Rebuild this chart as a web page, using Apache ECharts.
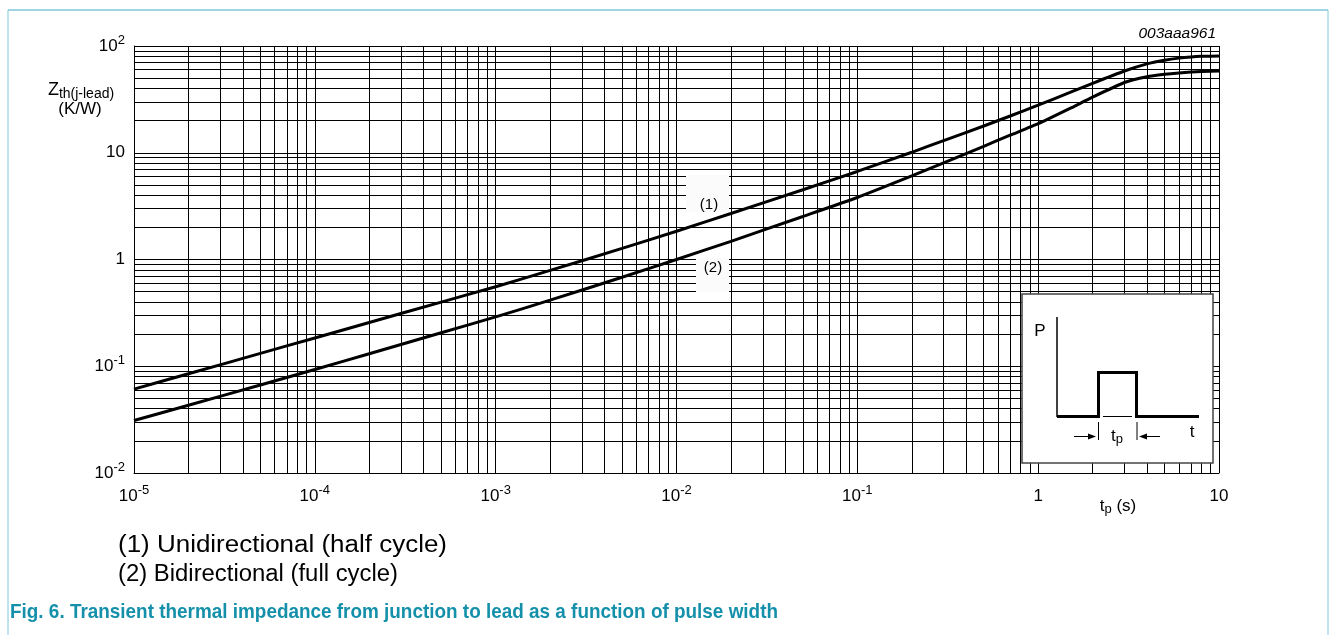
<!DOCTYPE html>
<html>
<head>
<meta charset="utf-8">
<script src="https://cdn.jsdelivr.net/npm/echarts@6/dist/echarts.min.js"></script>
<style>
html,body{margin:0;padding:0;background:#fff;}
#chart{width:1330px;height:635px;}
</style>
</head>
<body>
<div id="chart"></div>
<script>
// ---- data ----
const pulseWidth = [1e-5, 2e-5, 5e-5, 1e-4, 2e-4, 5e-4, 1e-3, 2e-3, 5e-3, 1e-2, 2e-2, 5e-2, 0.1, 0.2, 0.3, 0.5, 0.7, 1, 1.5, 2, 3, 4, 5, 6, 7, 8, 10];
const zthUnidirectional = [0.061, 0.085, 0.132, 0.184, 0.257, 0.399, 0.556, 0.79, 1.27, 1.84, 2.7, 4.5, 6.68, 10.1, 13.0, 17.8, 22.1, 27.9, 36.7, 44.7, 58.3, 68, 73.5, 77, 79, 80, 80.7];
const zthBidirectional = [0.031, 0.0431, 0.0668, 0.0931, 0.131, 0.206, 0.290, 0.416, 0.682, 1.0, 1.48, 2.53, 3.81, 6.06, 8.04, 11.5, 14.6, 18.7, 26.0, 33.2, 45.5, 51.5, 54.3, 56, 57, 57.7, 58.3];
const xTickExponents = [-5, -4, -3, -2, -1, 0, 1];
const yTickExponents = [-2, -1, 0, 1, 2];
const xPlainLabels = {'0': '1', '1': '10'};
const yPlainLabels = {'0': '1', '1': '10'};

const FONT = 'Liberation Sans, Arial, sans-serif';

function decadeGrid(minExp, maxExp) {
  const v = [];
  for (let e = minExp; e < maxExp; e++) {
    for (let m = 1; m <= 9; m++) v.push(m * Math.pow(10, e));
  }
  v.push(Math.pow(10, maxExp));
  return v;
}
const xMin = Math.pow(10, xTickExponents[0]), xMax = Math.pow(10, xTickExponents[xTickExponents.length - 1]);
const yMin = Math.pow(10, yTickExponents[0]), yMax = Math.pow(10, yTickExponents[yTickExponents.length - 1]);
const xGridValues = decadeGrid(xTickExponents[0], xTickExponents[xTickExponents.length - 1]);
const yGridValues = decadeGrid(yTickExponents[0], yTickExponents[yTickExponents.length - 1]);
const gridSegments = xGridValues.map(v => ({coords: [[v, yMin], [v, yMax]]}))
  .concat(yGridValues.map(v => ({coords: [[xMin, v], [xMax, v]]})));

function powLabel(value, plain) {
  const e = Math.round(Math.log10(value));
  if (plain[String(e)] !== undefined) return '{b|' + plain[String(e)] + '}';
  return '{b|10}{s|' + e + '}';
}
const labelRich = {
  b: {fontSize: 17, fontFamily: FONT, color: '#000', lineHeight: 24},
  s: {fontSize: 13, fontFamily: FONT, color: '#000', lineHeight: 13, verticalAlign: 'top'}
};

// measure text to fit widths
const mctx = document.createElement('canvas').getContext('2d');
function fitScale(text, font, width) {
  mctx.font = font;
  return width / mctx.measureText(text).width;
}
const capFont = 'bold 21px Liberation Sans';
const capText = 'Fig. 6. Transient thermal impedance from junction to lead as a function of pulse width';
const leg1 = '(1) Unidirectional (half cycle)';
const leg2 = '(2) Bidirectional (full cycle)';
const legFont = '23px Liberation Sans';

const chart = echarts.init(document.getElementById('chart'), null, {renderer: 'canvas'});

const lineW = 3;
const option = {
  animation: false,
  backgroundColor: '#fff',
  grid: {left: 134, right: 111, top: 46, bottom: 162, containLabel: false},
  xAxis: {
    type: 'log', logBase: 10, min: xMin, max: xMax, splitNumber: 6,
    axisLine: {show: true, lineStyle: {color: '#000', width: 1}},
    axisTick: {show: false},
    splitLine: {show: false},
    axisLabel: {margin: 11, formatter: v => powLabel(v, xPlainLabels), rich: labelRich}
  },
  yAxis: {
    type: 'log', logBase: 10, min: yMin, max: yMax, splitNumber: 4,
    axisLine: {show: true, lineStyle: {color: '#000', width: 1}},
    axisTick: {show: false},
    splitLine: {show: false},
    axisLabel: {margin: 9, formatter: v => powLabel(v, yPlainLabels), rich: labelRich}
  },
  series: [
    {
      type: 'lines', coordinateSystem: 'cartesian2d', silent: true, z: 1,
      lineStyle: {color: '#000', width: 1, opacity: 1},
      data: gridSegments
    },
    {
      name: '(1)', type: 'line', z: 5, showSymbol: false, smooth: 0.15, silent: true,
      lineStyle: {color: '#000', width: lineW},
      data: pulseWidth.map((x, i) => [x, zthUnidirectional[i]])
    },
    {
      name: '(2)', type: 'line', z: 5, showSymbol: false, smooth: 0.15, silent: true,
      lineStyle: {color: '#000', width: lineW},
      data: pulseWidth.map((x, i) => [x, zthBidirectional[i]])
    }
  ],
  graphic: [
    // page frame
    {type: 'line', shape: {x1: 8, y1: 10, x2: 1328, y2: 10}, style: {stroke: '#3aaecb', lineWidth: 1}, z: 200},
    {type: 'line', shape: {x1: 8, y1: 10, x2: 8, y2: 640}, style: {stroke: '#7cc9dc', lineWidth: 1}, z: 200},
    {type: 'line', shape: {x1: 1328, y1: 10, x2: 1328, y2: 640}, style: {stroke: '#7cc9dc', lineWidth: 1}, z: 200},
    // figure id
    {type: 'text', x: 1216, y: 34, z: 200, style: {text: '003aaa961', font: 'italic 15.5px Liberation Sans', fill: '#000', align: 'right', verticalAlign: 'middle'}},
    // y axis name
    {type: 'text', x: 81, y: 90, z: 200, style: {
      text: '{z|Z}{sub|th(j-lead)}', align: 'center', verticalAlign: 'middle',
      rich: {z: {fontSize: 18, fontFamily: FONT, fill: '#000', lineHeight: 22}, sub: {fontSize: 14, fontFamily: FONT, fill: '#000', lineHeight: 14, verticalAlign: 'bottom'}}
    }},
    {type: 'text', x: 80, y: 109, z: 200, style: {text: '(K/W)', font: '17px Liberation Sans', fill: '#000', align: 'center', verticalAlign: 'middle'}},
    // x axis name
    {type: 'text', x: 1118, y: 506, z: 200, style: {
      text: '{t|t}{sub|p}{t| (s)}', align: 'center', verticalAlign: 'middle',
      rich: {t: {fontSize: 17, fontFamily: FONT, fill: '#000', lineHeight: 20}, sub: {fontSize: 13, fontFamily: FONT, fill: '#000', lineHeight: 13, verticalAlign: 'bottom'}}
    }},
    // curve label boxes
    {type: 'rect', shape: {x: 686, y: 175, width: 43, height: 37}, style: {fill: '#fbfbfb'}, z: 150},
    {type: 'text', x: 709, y: 205, z: 151, style: {text: '(1)', font: '15px Liberation Sans', fill: '#000', align: 'center', verticalAlign: 'middle'}},
    {type: 'rect', shape: {x: 696, y: 258, width: 33, height: 34}, style: {fill: '#fbfbfb'}, z: 150},
    {type: 'text', x: 713, y: 268, z: 151, style: {text: '(2)', font: '15px Liberation Sans', fill: '#000', align: 'center', verticalAlign: 'middle'}},
    // inset pulse diagram
    {type: 'rect', shape: {x: 1022, y: 294, width: 191, height: 169}, style: {fill: '#fff', stroke: '#444', lineWidth: 1.5}, z: 150},
    {type: 'line', shape: {x1: 1057, y1: 317, x2: 1057, y2: 417}, style: {stroke: '#000', lineWidth: 1.5}, z: 151},
    {type: 'polyline', shape: {points: [[1057, 416.5], [1098.5, 416.5], [1098.5, 372.5], [1136.5, 372.5], [1136.5, 416.5], [1199, 416.5]]}, style: {stroke: '#000', lineWidth: 3, fill: null}, z: 152},
    {type: 'line', shape: {x1: 1102, y1: 416.5, x2: 1133, y2: 416.5}, style: {stroke: '#fff', lineWidth: 3}, z: 153},
    {type: 'line', shape: {x1: 1103, y1: 416.5, x2: 1132, y2: 416.5}, style: {stroke: '#000', lineWidth: 1}, z: 154},
    {type: 'line', shape: {x1: 1098.5, y1: 422, x2: 1098.5, y2: 440}, style: {stroke: '#000', lineWidth: 1}, z: 151},
    {type: 'line', shape: {x1: 1137, y1: 422, x2: 1137, y2: 440}, style: {stroke: '#000', lineWidth: 1}, z: 151},
    {type: 'line', shape: {x1: 1074, y1: 436.5, x2: 1090, y2: 436.5}, style: {stroke: '#000', lineWidth: 1}, z: 151},
    {type: 'polygon', shape: {points: [[1096, 436.5], [1088, 433.5], [1088, 439.5]]}, style: {fill: '#000'}, z: 151},
    {type: 'line', shape: {x1: 1145, y1: 436.5, x2: 1160, y2: 436.5}, style: {stroke: '#000', lineWidth: 1}, z: 151},
    {type: 'polygon', shape: {points: [[1139, 436.5], [1147, 433.5], [1147, 439.5]]}, style: {fill: '#000'}, z: 151},
    {type: 'text', x: 1040, y: 331, z: 155, style: {text: 'P', font: '17px Liberation Sans', fill: '#000', align: 'center', verticalAlign: 'middle'}},
    {type: 'text', x: 1192, y: 432, z: 155, style: {text: 't', font: '17px Liberation Sans', fill: '#000', align: 'center', verticalAlign: 'middle'}},
    {type: 'text', x: 1117, y: 436, z: 155, style: {
      text: '{t|t}{sub|p}', align: 'center', verticalAlign: 'middle',
      rich: {t: {fontSize: 17, fontFamily: FONT, fill: '#000', lineHeight: 20}, sub: {fontSize: 13, fontFamily: FONT, fill: '#000', lineHeight: 13, verticalAlign: 'bottom'}}
    }},
    // legend notes
    {type: 'text', x: 118, y: 546, z: 200, scaleX: fitScale(leg1, legFont, 329), style: {text: leg1, font: legFont, fill: '#000', align: 'left', verticalAlign: 'middle'}},
    {type: 'text', x: 118, y: 575, z: 200, scaleX: fitScale(leg2, legFont, 280), style: {text: leg2, font: legFont, fill: '#000', align: 'left', verticalAlign: 'middle'}},
    // caption
    {type: 'text', x: 10, y: 612, z: 200, scaleX: fitScale(capText, capFont, 768), style: {text: capText, font: capFont, fill: '#1590aa', align: 'left', verticalAlign: 'middle'}}
  ]
};
chart.setOption(option);
</script>
</body>
</html>
